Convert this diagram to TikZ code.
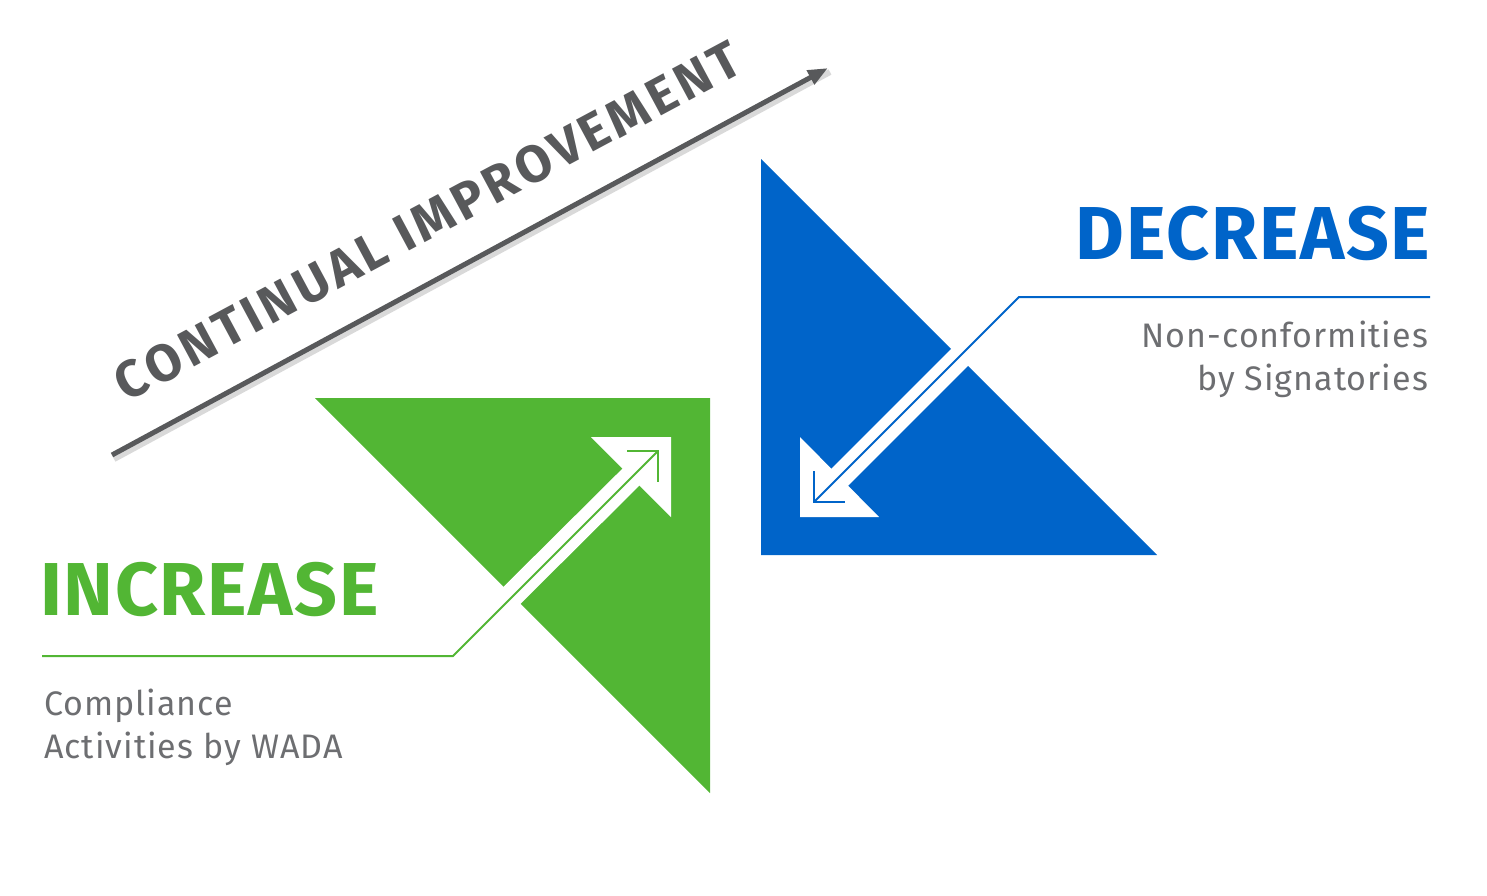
\documentclass[tikz,border=0pt]{standalone}
\usepackage{fontspec}
\setmainfont{Fira Sans}
\usetikzlibrary{arrows.meta}
\definecolor{wgreen}{HTML}{52B634}
\definecolor{wblue}{HTML}{0064C9}
\definecolor{wgrey}{HTML}{6D6E71}
\definecolor{agrey}{HTML}{58595B}
\tikzset{
  band/.style={draw=white, line width=24pt, line cap=butt},
  head/.style={fill=white, draw=none},
  thin/.style={line width=2pt, line join=miter},
  title/.style={inner sep=0pt, outer sep=0pt, font=\bfseries\fontsize{75}{75}\selectfont\addfontfeatures{LetterSpace=2.2}},
  desc/.style={inner sep=0pt, outer sep=0pt, text=wgrey, font=\fontsize{34}{34}\selectfont\addfontfeatures{LetterSpace=3}},
}
\begin{document}
\begin{tikzpicture}[x=1pt,y=-1pt]
\useasboundingbox (0,0) rectangle (1487,895);
% continual improvement arrow
\coordinate (cs) at (112,455);
\coordinate (ce) at (828,68);
\draw[black!25, line width=6pt, opacity=0.6] ([shift={(2,4)}]cs) -- ([shift={(2,4)}]ce);
\draw[agrey, line width=5pt, -{Triangle[length=20pt,width=15pt]}] (cs) -- (ce);
\node[anchor=base, rotate=28.2, inner sep=0pt, text=agrey, font=\bfseries\fontsize{52}{52}\selectfont\addfontfeatures{LetterSpace=8}] (ci) at (436,237) {CONTINUAL IMPROVEMENT};
% green triangle
\fill[wgreen] (315,398) -- (710,398) -- (710,793) -- cycle;
\coordinate (gb1) at (470,637);
\coordinate (gb2) at (633,475);
\draw[band] (gb1) -- (gb2);
\fill[head] (591,437) -- (671,437) -- (671,517) -- cycle;
\coordinate (gl0) at (42,656);
\coordinate (gl1) at (453,656);
\coordinate (gl2) at (658,451);
\draw[wgreen, thin] (gl0) -- (gl1) -- (gl2);
\draw[wgreen, thin] (627,451) -- (gl2) -- (658,482);
% blue triangle
\fill[wblue] (761,159) -- (761,555) -- (1157,555) -- cycle;
\coordinate (bb1) at (990,327);
\coordinate (bb2) at (838,479);
\draw[band] (bb1) -- (bb2);
\fill[head] (800,437) -- (800,517) -- (879,517) -- cycle;
\coordinate (bl0) at (1430,297);
\coordinate (bl1) at (1019,297);
\coordinate (bl2) at (814,502);
\draw[wblue, thin] (bl0) -- (bl1) -- (bl2);
\draw[wblue, thin] (814,471) -- (bl2) -- (845,502);
% texts
\node[title, text=wgreen, anchor=base west] (inc) at (40,615) {INCREASE};
\node[title, text=wblue, anchor=base east] (dec) at (1430,259) {DECREASE};
\node[desc, anchor=base west] (c1) at (44,715) {Compliance};
\node[desc, anchor=base west] (c2) at (44,758) {Activities by WADA};
\node[desc, anchor=base east] (n1) at (1428,347) {Non-conformities};
\node[desc, anchor=base east] (n2) at (1428,390) {by Signatories};
\end{tikzpicture}
\end{document}
